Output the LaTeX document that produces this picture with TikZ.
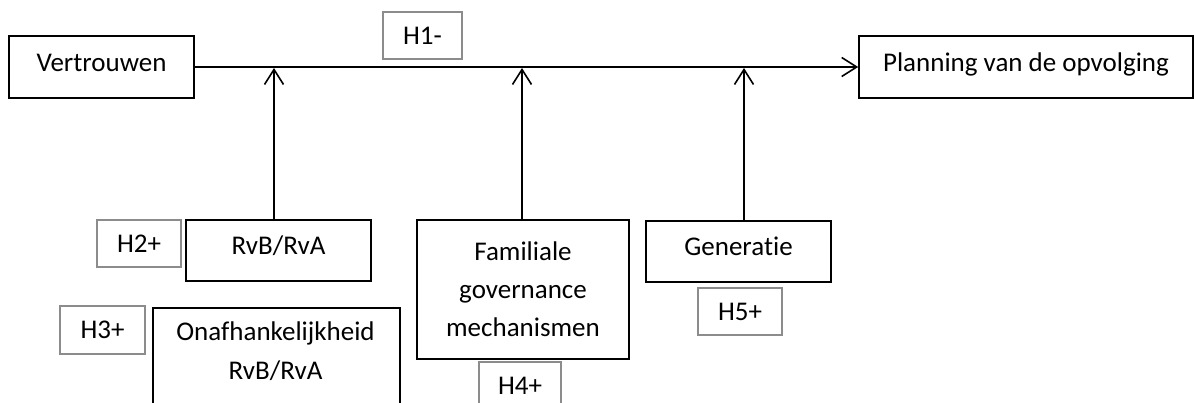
\documentclass[tikz,border=0pt]{standalone}
\usepackage{fontspec}
\setmainfont{Carlito}[Ligatures=NoCommon]
\usetikzlibrary{arrows.meta}
\definecolor{hgray}{RGB}{140,140,140}
\begin{document}
\begin{tikzpicture}[x=1pt,y=-1pt,
  blackbox/.style={draw=black,line width=1.6pt,inner sep=0pt,font=\fontsize{27}{38}\selectfont,align=center},
  single/.style={text height=19pt,text depth=10pt},
  graybox/.style={draw=hgray,line width=1.6pt,inner sep=0pt,font=\fontsize{27}{30}\selectfont},
  txt/.style={inner sep=0pt,font=\fontsize{27}{39}\selectfont,align=center},
  arr/.style={line width=1.6pt,-{Straight Barb[length=15pt,width=19pt,line width=1.6pt]}}]
\useasboundingbox (0,0) rectangle (1194,403);
\clip (0,0) rectangle (1194,403);
% top row
\node[blackbox,single,minimum width=185pt,minimum height=62pt] (vert) at (101.5,67) {Vertrouwen};
\node[blackbox,single,minimum width=334pt,minimum height=62pt] (plan) at (1026,67) {Planning van de opvolging};
\node[graybox,minimum width=79pt,minimum height=47pt] (h1) at (422.5,35.5) {H1-};
% moderators
\node[blackbox,single,minimum width=185pt,minimum height=61pt] (rvb) at (278.5,250.5) {RvB/RvA};
\node[graybox,minimum width=84pt,minimum height=47pt] (h2) at (139,243.5) {H2+};
\node[graybox,minimum width=85pt,minimum height=48pt] (h3) at (102.5,330) {H3+};
\node[blackbox,minimum width=247pt,minimum height=140pt,anchor=north west] (onaf) at (152,307) {};
\node[txt] (onaftxt) at (275.5,351) {Onafhankelijkheid\\RvB/RvA};
\node[blackbox,minimum width=212pt,minimum height=139pt] (fam) at (523,289.5) {Familiale\\governance\\mechanismen};
\node[graybox,minimum width=82pt,minimum height=47pt] (h4) at (520,385.5) {H4+};
\node[blackbox,single,minimum width=185pt,minimum height=61pt] (gen) at (738.5,251.5) {Generatie};
\node[graybox,minimum width=84pt,minimum height=47pt] (h5) at (740,311.5) {H5+};
% main connector
\draw[arr] (vert.east) -- (plan.west);
\coordinate (m1) at (274,68);
\coordinate (m2) at (522,68);
\coordinate (m3) at (744,68);
\draw[arr] (rvb.north -| m1) -- (m1);
\draw[arr] (fam.north -| m2) -- (m2);
\draw[arr] (gen.north -| m3) -- (m3);
\end{tikzpicture}
\end{document}
